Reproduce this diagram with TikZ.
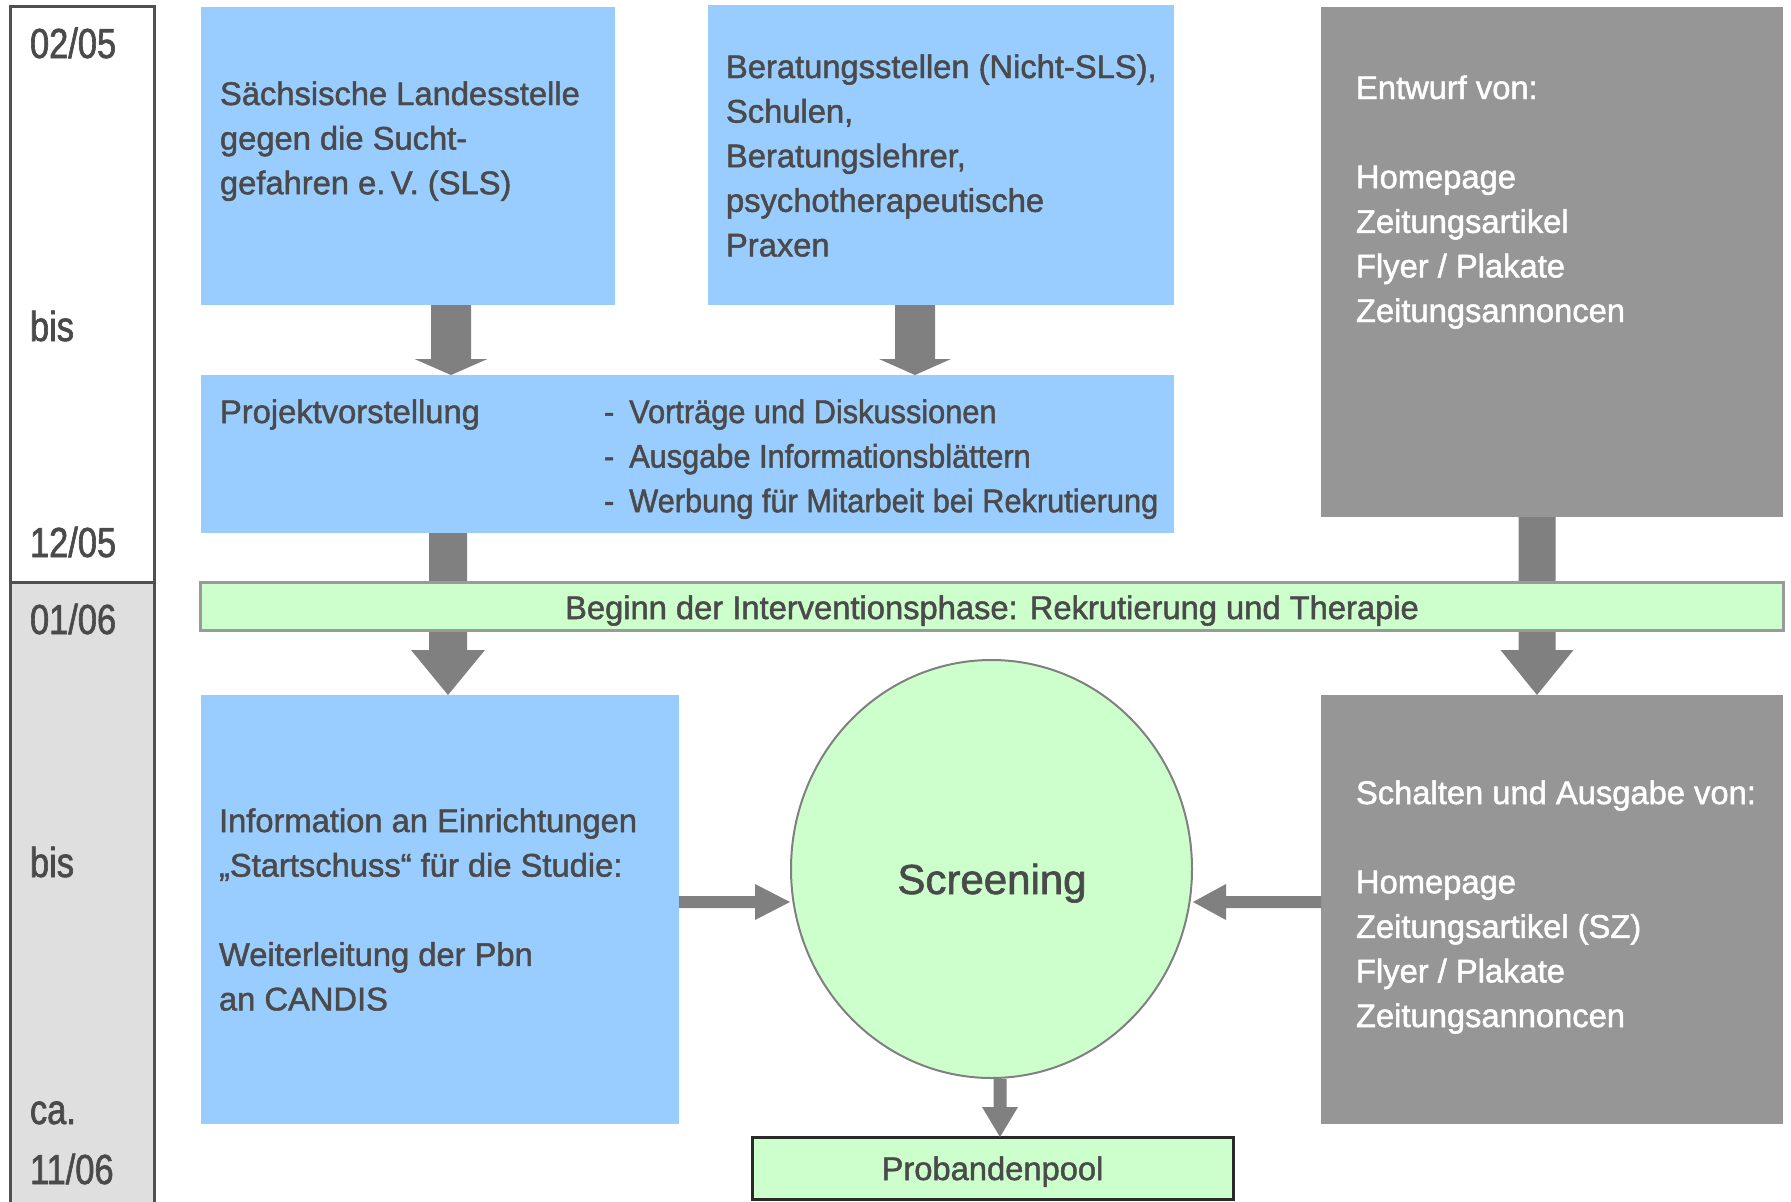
\documentclass[tikz,border=0pt]{standalone}
\usepackage{fontspec}
\setmainfont{Liberation Sans}[FakeBold=1.5]
\newfontfamily\mainfnt[FakeBold=1.5]{Liberation Sans}
\newfontfamily\condfont[FakeStretch=0.94,FakeBold=1.5]{Liberation Sans}
\newfontfamily\narrowfont[FakeStretch=0.82,FakeBold=1.5]{Liberation Sans}
\usetikzlibrary{calc,shapes.geometric}
\definecolor{boxblue}{HTML}{99CCFF}
\definecolor{boxgray}{HTML}{969696}
\definecolor{arrowgray}{HTML}{808080}
\definecolor{lightgreen}{HTML}{CCFFCC}
\definecolor{bargray}{HTML}{9A9A9A}
\definecolor{txtgray}{HTML}{4A4A4A}
\definecolor{tlborder}{HTML}{505050}
\definecolor{tlfill}{HTML}{E0DFDF}
\definecolor{poolborder}{HTML}{2A2A2A}

% block arrows between named points
\newcommand\vblockarrow[5]{% start, end, shaft width, head width, head length (pointing down)
  \fill[arrowgray] let \p1=#1, \p2=#2 in
    (\x1-#3/2,\y1) -- (\x1-#3/2,\y2+#5) -- (\x1-#4/2,\y2+#5) -- (\x1,\y2)
    -- (\x1+#4/2,\y2+#5) -- (\x1+#3/2,\y2+#5) -- (\x1+#3/2,\y1) -- cycle;}
\newcommand\rblockarrow[5]{% pointing right
  \fill[arrowgray] let \p1=#1, \p2=#2 in
    (\x1,\y1-#3/2) -- (\x2-#5,\y1-#3/2) -- (\x2-#5,\y1-#4/2) -- (\x2,\y1)
    -- (\x2-#5,\y1+#4/2) -- (\x2-#5,\y1+#3/2) -- (\x1,\y1+#3/2) -- cycle;}
\newcommand\lblockarrow[5]{% pointing left
  \fill[arrowgray] let \p1=#1, \p2=#2 in
    (\x1,\y1-#3/2) -- (\x2+#5,\y1-#3/2) -- (\x2+#5,\y1-#4/2) -- (\x2,\y1)
    -- (\x2+#5,\y1+#4/2) -- (\x2+#5,\y1+#3/2) -- (\x1,\y1+#3/2) -- cycle;}

\tikzset{
  panel/.style={inner sep=0pt, outer sep=0pt, anchor=north west},
  bluepanel/.style={panel, fill=boxblue},
  graypanel/.style={panel, fill=boxgray},
  tlpanel/.style={panel, draw=tlborder, line width=3pt},
  txt/.style={inner sep=0pt, outer sep=0pt, anchor=base west, text=txtgray,
    font=\mainfnt\fontsize{32.7pt}{44.6pt}\selectfont},
  wtxt/.style={txt, text=white},
  tltxt/.style={inner sep=0pt, outer sep=0pt, anchor=base west, text=txtgray,
    font=\narrowfont\fontsize{42pt}{50pt}\selectfont},
}

\begin{document}
\begin{tikzpicture}[x=1pt,y=-1pt]
\useasboundingbox (0,0) rectangle (1791,1202);

% timeline
\node[tlpanel, fill=white, minimum width=144pt, minimum height=576pt] (tltop) at (10,6) {};
\node[tlpanel, fill=tlfill, minimum width=144pt, minimum height=625pt] (tlbot) at (10,582) {};
\node[tltxt] (t1) at (30,58) {02/05};
\node[tltxt] (t2) at (30,341) {bis};
\node[tltxt] (t3) at (30,557) {12/05};
\node[tltxt] (t4) at (30,634) {01/06};
\node[tltxt] (t5) at (30,877) {bis};
\node[tltxt] (t6) at (30,1124) {ca.};
\node[tltxt] (t7) at (30,1184) {11/06};

% top boxes
\node[bluepanel, minimum width=414pt, minimum height=298pt] (sls) at (201,7) {};
\node[txt] (slstxt) at (220,105) {\begin{tabular}[t]{@{}l@{}}Sächsische Landesstelle\\gegen die Sucht-\\gefahren e.\,V. (SLS)\end{tabular}};

\node[bluepanel, minimum width=466pt, minimum height=300pt] (ber) at (708,5) {};
\node[txt] (bertxt) at (726,78) {\begin{tabular}[t]{@{}l@{}}Beratungsstellen (Nicht-SLS),\\Schulen,\\Beratungslehrer,\\psychotherapeutische\\Praxen\end{tabular}};

\node[graypanel, minimum width=462pt, minimum height=510pt] (entw) at (1321,7) {};
\node[wtxt] (entwtxt) at (1356,99) {\begin{tabular}[t]{@{}l@{}}Entwurf von:\\ \\Homepage\\Zeitungsartikel\\Flyer / Plakate\\Zeitungsannoncen\end{tabular}};

\node[bluepanel, minimum width=973pt, minimum height=158pt] (proj) at (201,375) {};
\node[txt] (projtitle) at (220,423) {Projektvorstellung};
\node[txt, font=\condfont\fontsize{32.7pt}{44.6pt}\selectfont] (projlist) at (604,423) {\begin{tabular}[t]{@{}l@{\hspace{15pt}}l@{}}-&Vorträge und Diskussionen\\-&Ausgabe Informationsblättern\\-&Werbung für Mitarbeit bei Rekrutierung\end{tabular}};

% lower boxes
\node[bluepanel, minimum width=478pt, minimum height=429pt] (info) at (201,695) {};
\node[txt] (infotxt) at (219,832) {\begin{tabular}[t]{@{}l@{}}Information an Einrichtungen\\„Startschuss“ für die Studie:\\ \\Weiterleitung der Pbn\\an CANDIS\end{tabular}};

\node[graypanel, minimum width=462pt, minimum height=429pt] (sch) at (1321,695) {};
\node[wtxt] (schtxt) at (1356,804) {\begin{tabular}[t]{@{}l@{}}Schalten und Ausgabe von:\\ \\Homepage\\Zeitungsartikel (SZ)\\Flyer / Plakate\\Zeitungsannoncen\end{tabular}};

% arrow axes
\coordinate (ax1) at (451,0);
\coordinate (ax2) at (915,0);
\coordinate (ax3) at (448,0);
\coordinate (ax4) at (1537,0);
\coordinate (ax5) at (1000,0);
\coordinate (ay6) at (0,902);

\vblockarrow{(sls.south -| ax1)}{(proj.north -| ax1)}{40pt}{73pt}{16pt}
\vblockarrow{(ber.south -| ax2)}{(proj.north -| ax2)}{40pt}{72pt}{16pt}
\vblockarrow{(proj.south -| ax3)}{(info.north -| ax3)}{38pt}{74pt}{45pt}
\vblockarrow{(entw.south -| ax4)}{(sch.north -| ax4)}{37pt}{73pt}{45pt}

% phase bar
\node[panel, fill=lightgreen, draw=bargray, line width=3pt, minimum width=1583pt, minimum height=48pt] (bar) at (200,582) {};
\node[txt, anchor=base] (bartxt) at (992,619) {Beginn der Interventionsphase: Rekrutierung und Therapie};

% screening
\node[draw=arrowgray, line width=2pt, fill=lightgreen, ellipse, minimum width=401pt, minimum height=418pt, inner sep=0pt] (ell) at (991.5,869) {};
\node[txt, anchor=base, font=\mainfnt\fontsize{42pt}{50pt}\selectfont] (elltxt) at (992,894) {Screening};

\rblockarrow{(info.east |- ay6)}{(ell.west |- ay6)}{12pt}{36pt}{35pt}
\lblockarrow{(sch.west |- ay6)}{(ell.east |- ay6)}{12pt}{36pt}{33pt}

% pool
\node[panel, fill=lightgreen, draw=poolborder, line width=3pt, minimum width=481pt, minimum height=62pt] (pool) at (752,1137) {};
\node[txt, anchor=base] (pooltxt) at (992.5,1180) {Probandenpool};
\vblockarrow{(ell.south -| ax5)}{(pool.north -| ax5)}{13pt}{36pt}{30pt}
\end{tikzpicture}
\end{document}
